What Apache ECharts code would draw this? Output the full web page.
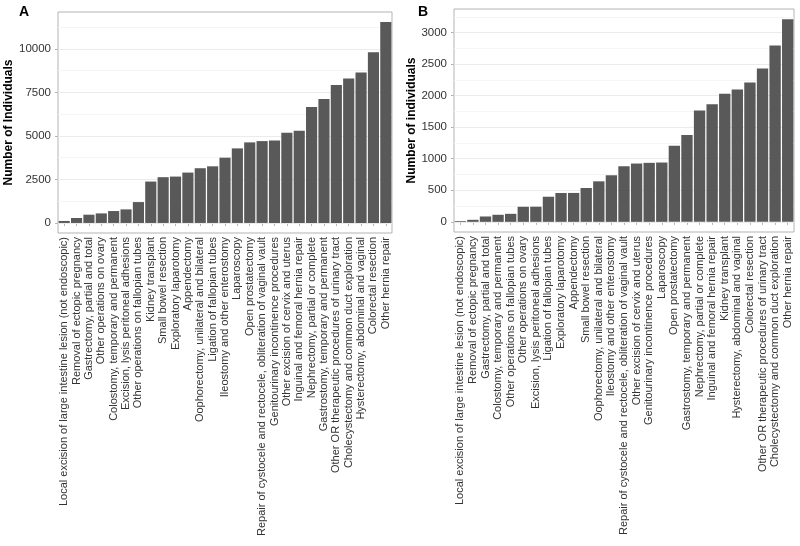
<!DOCTYPE html>
<html>
<head>
<meta charset="utf-8">
<script src="https://cdn.jsdelivr.net/npm/echarts@6/dist/echarts.min.js"></script>
<style>html,body{margin:0;padding:0;background:#fff}#c{width:800px;height:546px}</style>
</head>
<body>
<div id="c"></div>
<script>
const catsA = ["Local excision of large intestine lesion (not endoscopic)","Removal of ectopic pregnancy","Gastrectomy, partial and total","Other operations on ovary","Colostomy, temporary and permanent","Excision, lysis peritoneal adhesions","Other operations on fallopian tubes","Kidney transplant","Small bowel resection","Exploratory laparotomy","Appendectomy","Oophorectomy, unilateral and bilateral","Ligation of fallopian tubes","Ileostomy and other enterostomy","Laparoscopy","Open prostatectomy","Repair of cystocele and rectocele, obliteration of vaginal vault","Genitourinary incontinence procedures","Other excision of cervix and uterus","Inguinal and femoral hernia repair","Nephrectomy, partial or complete","Gastrostomy, temporary and permanent","Other OR therapeutic procedures of urinary tract","Cholecystectomy and common duct exploration","Hysterectomy, abdominal and vaginal","Colorectal resection","Other hernia repair"];
const valsA = [115,285,475,550,685,780,1200,2380,2630,2665,2895,3145,3255,3750,4285,4630,4705,4745,5180,5295,6665,7125,7925,8305,8650,9810,11545];
const catsB = ["Local excision of large intestine lesion (not endoscopic)","Removal of ectopic pregnancy","Gastrectomy, partial and total","Colostomy, temporary and permanent","Other operations on fallopian tubes","Other operations on ovary","Excision, lysis peritoneal adhesions","Ligation of fallopian tubes","Exploratory laparotomy","Appendectomy","Small bowel resection","Oophorectomy, unilateral and bilateral","Ileostomy and other enterostomy","Repair of cystocele and rectocele, obliteration of vaginal vault","Other excision of cervix and uterus","Genitourinary incontinence procedures","Laparoscopy","Open prostatectomy","Gastrostomy, temporary and permanent","Nephrectomy, partial or complete","Inguinal and femoral hernia repair","Kidney transplant","Hysterectomy, abdominal and vaginal","Colorectal resection","Other OR therapeutic procedures of urinary tract","Cholecystectomy and common duct exploration","Other hernia repair"];
const valsB = [12,32,85,112,127,239,240,398,457,458,536,642,738,881,924,935,940,1205,1375,1763,1864,2028,2097,2209,2432,2793,3212];
const ticksA = [0,2500,5000,7500,10000];
const minorA = [1250,3750,6250,8750,11250];
const ticksB = [0,500,1000,1500,2000,2500,3000];
const minorB = [250,750,1250,1750,2250,2750,3250];

const FONT = 'Liberation Sans, Arial, Helvetica, sans-serif';
function gridLines(major, minor){
  return {
    silent:true, symbol:'none', z:1, animation:false,
    label:{show:false},
    data: major.map(v=>({yAxis:v, lineStyle:{color:'#ebebeb',width:1,type:'solid'}}))
      .concat(minor.map(v=>({yAxis:v, lineStyle:{color:'#f5f5f5',width:1,type:'solid'}})))
  };
}
function xAx(idx, cats){
  return {type:'category', gridIndex:idx, data:cats,
    axisLine:{show:false},
    axisTick:{show:true, alignWithLabel:true, length:3, lineStyle:{color:'#b3b3b3'}},
    axisLabel:{interval:0, rotate:90, fontSize:11, margin:4, color:'#333', fontFamily:FONT}};
}
function yAx(idx, min, max, ticks, name, gap){
  return {type:'value', gridIndex:idx, min:min, max:max,
    name:name, nameLocation:'middle', nameGap:gap,
    nameTextStyle:{fontSize:12, fontWeight:'bold', color:'#000', fontFamily:FONT},
    axisLine:{show:false}, splitLine:{show:false},
    axisTick:{show:true, length:3, customValues:ticks, lineStyle:{color:'#b3b3b3'}},
    axisLabel:{customValues:ticks, formatter:v=>String(v), fontSize:11.5, margin:7, color:'#333', fontFamily:FONT}};
}
const chart = echarts.init(document.getElementById('c'));
chart.setOption({
  animation:false,
  backgroundColor:'#fff',
  title:[
    {text:'A', left:14, top:0, textStyle:{fontSize:14, fontWeight:'bold', color:'#000', fontFamily:FONT}},
    {text:'B', left:413, top:0, textStyle:{fontSize:14, fontWeight:'bold', color:'#000', fontFamily:FONT}}
  ],
  grid:[
    {left:58, top:12, width:334, height:221, show:true, borderColor:'#b3b3b3', borderWidth:1, backgroundColor:'#fff'},
    {left:454, top:9, width:340, height:223, show:true, borderColor:'#b3b3b3', borderWidth:1, backgroundColor:'#fff'}
  ],
  xAxis:[xAx(0,catsA), xAx(1,catsB)],
  yAxis:[yAx(0,-577,12122,ticksA,'Number of Individuals',37), yAx(1,-161,3373,ticksB,'Number of individuals',31)],
  series:[
    {type:'bar', xAxisIndex:0, yAxisIndex:0, data:valsA, barCategoryGap:'10%', itemStyle:{color:'#595959'}, z:2, markLine:gridLines(ticksA,minorA)},
    {type:'bar', xAxisIndex:1, yAxisIndex:1, data:valsB, barCategoryGap:'10%', itemStyle:{color:'#595959'}, z:2, markLine:gridLines(ticksB,minorB)}
  ]
});
</script>
</body>
</html>
